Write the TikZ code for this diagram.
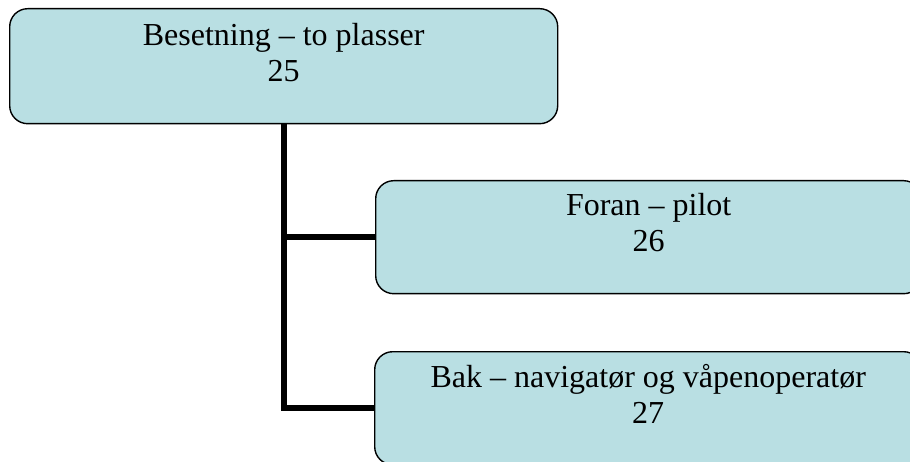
\documentclass[tikz,border=0pt]{standalone}
\usepackage{fontspec}
\setmainfont{Liberation Serif}
\definecolor{boxfill}{RGB}{185,223,227}
\begin{document}
\begin{tikzpicture}[x=1pt,y=-1pt,
  orgbox/.style={draw=black, line width=1.4pt, fill=boxfill, rounded corners=18pt,
    inner sep=0pt, anchor=north west, minimum height=113pt},
  boxtext/.style={anchor=north, inner sep=0pt, align=center,
    font=\fontsize{32}{36}\selectfont},
  link/.style={line width=6pt, draw=black}]
\useasboundingbox (0,0) rectangle (910,462);
\clip (0,0) rectangle (910,462);

% boxes
\node[orgbox, minimum width=548pt, minimum height=115pt] (b1) at (9,8) {};
\node[orgbox, minimum width=546pt] (b2) at (375,180) {};
\node[orgbox, minimum width=547pt] (b3) at (374,351) {};

% connectors
\draw[link] (b1.south) -- (b1.south |- b3.west) -- (b3.west);
\draw[link] (b1.south |- b2.west) -- (b2.west);

% labels
\node[boxtext] (t1) at ([yshift=-12pt]b1.north) {\strut Besetning – to plasser\\\strut 25};
\node[boxtext] (t2) at ([yshift=-10pt]b2.north) {\strut Foran – pilot\\\strut 26};
\node[boxtext] (t3) at ([yshift=-11pt]b3.north) {\strut Bak – navigatør og våpenoperatør\\\strut 27};
\end{tikzpicture}
\end{document}
